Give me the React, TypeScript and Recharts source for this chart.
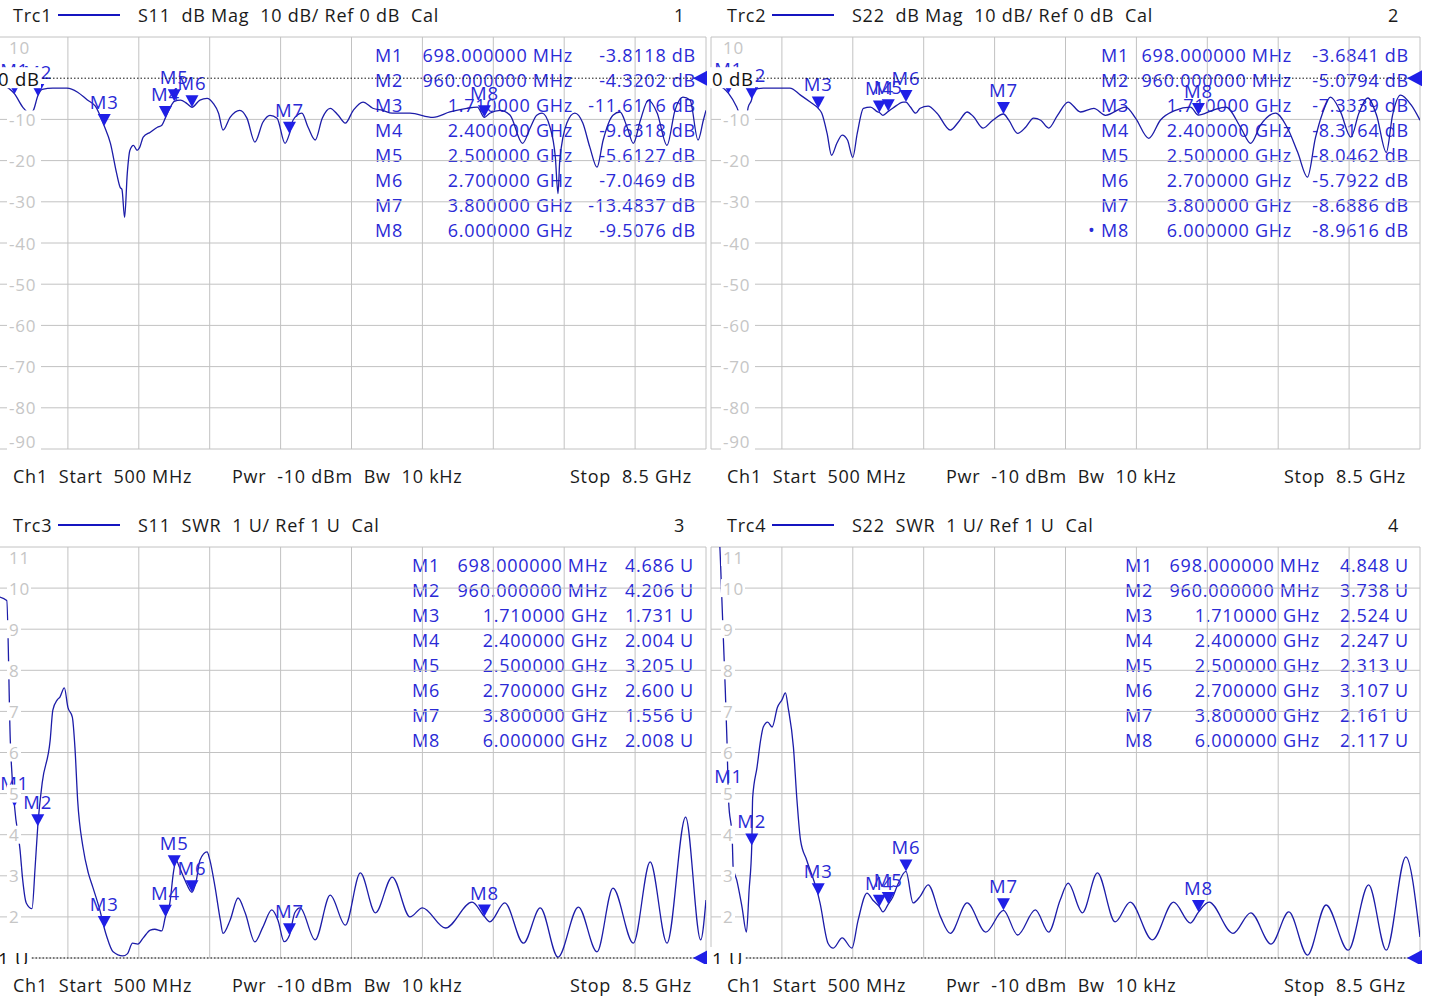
import {
  ComposedChart,
  Line,
  Scatter,
  XAxis,
  YAxis,
  CartesianGrid,
  ReferenceLine,
} from 'recharts';

const FONT = '"Open Sans", "Noto Sans", sans-serif';
const TRACE = '#1c1ca8';
const MARK = '#1f1fe6';
const MTEXT = '#2a2ad6';

// sweep grid (GHz)
const xTicks = [0.5, 1.3, 2.1, 2.9, 3.7, 4.5, 5.3, 6.1, 6.9, 7.7, 8.5];
const dbTicks = [10, -10, -20, -30, -40, -50, -60, -70, -80, -90];
const swrTicks = [11, 10, 9, 8, 7, 6, 5, 4, 3, 2];

// marker frequencies (GHz), shared by all traces
const markerFreqs = [0.698, 0.96, 1.71, 2.4, 2.5, 2.7, 3.8, 6.0];
const s11DbMarkers = [-3.8118, -4.3202, -11.6116, -9.6318, -5.6127, -7.0469, -13.4837, -9.5076];
const s22DbMarkers = [-3.6841, -5.0794, -7.3339, -8.3164, -8.0462, -5.7922, -8.6886, -8.9616];
const s11SwrMarkers = [4.686, 4.206, 1.731, 2.004, 3.205, 2.6, 1.556, 2.008];
const s22SwrMarkers = [4.848, 3.738, 2.524, 2.247, 2.313, 3.107, 2.161, 2.117];

// Trc1  S11 dB Mag
const s11DbFreq = [
  0.5, 0.59, 0.698, 0.79, 0.87, 0.91, 0.96, 1.01, 1.13, 1.29, 1.41, 1.52, 1.61, 1.71, 1.78,
  1.85, 1.89, 1.91, 1.94, 1.97, 2.0, 2.04, 2.08, 2.11, 2.15, 2.23, 2.31, 2.36, 2.4, 2.45,
  2.5, 2.57, 2.64, 2.7, 2.79, 2.87, 2.94, 3.0, 3.05, 3.13, 3.24, 3.32, 3.41, 3.5, 3.58,
  3.66, 3.75, 3.8, 3.84, 3.94, 4.01, 4.09, 4.17, 4.26, 4.35, 4.43, 4.52, 4.63, 4.74, 4.85,
  4.96, 5.16, 5.42, 5.61, 5.8, 5.92, 6.0, 6.06, 6.18, 6.29, 6.43, 6.52, 6.59, 6.65, 6.74,
  6.8, 6.83, 6.85, 6.93, 7.02, 7.11, 7.19, 7.27, 7.34, 7.45, 7.53, 7.61, 7.68, 7.76, 7.85,
  7.95, 8.06, 8.15, 8.24, 8.32, 8.41, 8.47, 8.5,
];
const s11DbVal = [
  -1.5, -1.9, -3.81, -7, -8.5, -7.8, -4.32, -2.7, -2.4, -2.4, -3.4, -5.3, -6.8, -11.61, -15.8,
  -23.1, -26.5, -27, -33.8, -23.1, -17.5, -16.3, -17.5, -16.8, -14.3, -13.1, -11.9, -11.4, -9.63, -7.3,
  -5.61, -5.3, -6.1, -7.05, -5.3, -4.9, -6.1, -8.5, -12.6, -9.5, -7.8, -9.7, -15.5, -10.7, -9,
  -9.7, -15.8, -13.48, -10.2, -8.5, -11.9, -15, -9.7, -7.3, -9, -10.9, -7.8, -5.8, -7.3, -7.8,
  -8.5, -8.5, -9.5, -8.2, -7.3, -7, -9.51, -8.5, -7.8, -9, -15.8, -11.9, -9, -8.5, -11.9,
  -19.2, -28, -20, -10.9, -8.5, -10.9, -16.8, -21.6, -15, -9, -8.2, -11.9, -15.8, -10.2, -5.3,
  -8.5, -16.3, -7.8, -4.6, -5.3, -15, -10.2, -7.8,
];

// Trc2  S22 dB Mag
const s22DbFreq = [
  0.5, 0.6, 0.698, 0.79, 0.88, 0.92, 0.96, 0.97, 1.09, 1.39, 1.51, 1.62, 1.71, 1.75, 1.81,
  1.86, 1.92, 1.98, 2.04, 2.1, 2.15, 2.22, 2.3, 2.38, 2.4, 2.44, 2.5, 2.55, 2.67, 2.7,
  2.75, 2.81, 2.86, 2.95, 3.05, 3.2, 3.29, 3.39, 3.46, 3.57, 3.68, 3.8, 3.86, 3.96, 4.05,
  4.14, 4.22, 4.31, 4.41, 4.53, 4.67, 4.82, 4.95, 5.18, 5.29, 5.44, 5.57, 5.74, 5.91, 6.0,
  6.16, 6.31, 6.48, 6.59, 6.7, 6.87, 7.0, 7.12, 7.23, 7.32, 7.4, 7.49, 7.6, 7.72, 7.81,
  7.91, 8.01, 8.12, 8.19, 8.28, 8.4, 8.5,
];
const s22DbVal = [
  -1.5, -1.9, -3.68, -7, -11.9, -7, -5.08, -2.9, -2.4, -2.4, -4.1, -5.8, -7.33, -8.5, -13.4,
  -18.7, -15.8, -13.8, -15, -19.2, -13.4, -7.3, -7, -8.2, -8.32, -9, -8.05, -7.3, -5.8, -5.79,
  -7, -8.5, -7.3, -6.8, -8.5, -12.6, -10.7, -8.2, -9.3, -12.1, -10.2, -8.69, -10.2, -13.4, -11.9,
  -9.7, -10.2, -12.1, -9, -5.8, -8.2, -7.3, -9, -7, -9.7, -14.6, -10.2, -7.8, -7, -8.96,
  -7.8, -7, -12.1, -15.8, -11.4, -8.5, -11.9, -18, -24, -14.5, -8.5, -4.6, -8, -14.3, -8.5,
  -4.8, -9, -18, -9, -4.1, -6.5, -10.2,
];

// Trc3  S11 SWR
const s11SwrFreq = [
  0.5, 0.61, 0.65, 0.698, 0.76, 0.79, 0.83, 0.895, 0.93, 0.96, 1.01, 1.1, 1.13, 1.18, 1.21,
  1.26, 1.3, 1.35, 1.38, 1.41, 1.47, 1.53, 1.58, 1.66, 1.71, 1.74, 1.81, 1.92, 1.97, 2.03,
  2.09, 2.15, 2.23, 2.28, 2.36, 2.4, 2.45, 2.49, 2.5, 2.52, 2.56, 2.62, 2.7, 2.75, 2.79,
  2.87, 2.9, 2.96, 3.02, 3.05, 3.13, 3.22, 3.3, 3.41, 3.5, 3.6, 3.67, 3.74, 3.8, 3.86,
  3.92, 4.09, 4.26, 4.43, 4.6, 4.77, 4.96, 5.16, 5.3, 5.56, 5.86, 6.0, 6.06, 6.23, 6.44,
  6.63, 6.83, 7.06, 7.27, 7.45, 7.68, 7.87, 8.06, 8.27, 8.44, 8.5,
];
const s11SwrVal = [
  9.8, 9.7, 6.3, 4.686, 3.63, 2.9, 2.34, 2.2, 3.2, 4.206, 5.26, 6.3, 7.03, 7.28, 7.35,
  7.57, 7.1, 6.86, 6.1, 4.84, 3.7, 3.07, 2.73, 2.17, 1.731, 1.51, 1.15, 1.05, 1.1, 1.36,
  1.34, 1.49, 1.68, 1.7, 1.66, 2.004, 2.33, 3.07, 3.205, 3.38, 3.2, 2.9, 2.6, 2.9, 3.38,
  3.58, 3.4, 2.73, 1.92, 1.6, 1.92, 2.46, 2.1, 1.39, 1.75, 2.17, 1.92, 1.4, 1.556, 2.1,
  2.22, 1.44, 2.53, 1.8, 3.07, 2.1, 2.97, 2.0, 2.22, 1.73, 2.36, 2.008, 1.88, 2.34, 1.36,
  2.22, 1.02, 2.24, 1.15, 2.7, 1.36, 3.34, 1.36, 4.43, 1.44, 2.41,
];

// Trc4  S22 SWR
const s22SwrFreq = [
  0.5, 0.6, 0.62, 0.64, 0.66, 0.68, 0.698, 0.74, 0.75, 0.79, 0.85, 0.9, 0.93, 0.96, 0.97,
  1.02, 1.06, 1.09, 1.14, 1.19, 1.25, 1.3, 1.34, 1.37, 1.43, 1.47, 1.51, 1.58, 1.67, 1.71,
  1.73, 1.82, 1.88, 1.98, 2.09, 2.16, 2.26, 2.33, 2.4, 2.44, 2.5, 2.55, 2.61, 2.7, 2.78,
  2.86, 2.95, 3.09, 3.2, 3.39, 3.6, 3.8, 3.96, 4.16, 4.31, 4.44, 4.53, 4.69, 4.86, 5.06,
  5.23, 5.48, 5.72, 5.91, 6.0, 6.12, 6.39, 6.59, 6.82, 7.02, 7.23, 7.44, 7.69, 7.92, 8.12,
  8.34, 8.5,
];
const s22SwrVal = [
  13, 11, 9.88, 8.74, 7.6, 6.3, 4.848, 3.87, 3.2, 2.9, 2.24, 1.63, 2.65, 3.738, 4.9,
  5.65, 6.3, 6.62, 6.74, 6.62, 7.1, 7.28, 7.45, 7.1, 6.13, 4.84, 3.87, 3.38, 2.82, 2.524,
  2.34, 1.36, 1.24, 1.49, 1.24, 1.92, 2.58, 2.4, 2.247, 2.12, 2.313, 2.48, 2.8, 3.107, 2.34,
  2.5, 2.78, 2.0, 1.6, 2.34, 1.63, 2.161, 1.56, 2.17, 1.63, 2.41, 2.82, 2.1, 3.07, 1.88,
  2.36, 1.44, 2.36, 1.85, 2.117, 2.36, 1.6, 2.1, 1.34, 2.12, 1.07, 2.29, 1.19, 2.78, 1.19,
  3.46, 1.51,
];

const freqText = (f: number) =>
  f < 1 ? `${(f * 1000).toFixed(6)} MHz` : `${f.toFixed(6)} GHz`;

const MarkerShape = (props: any) => {
  const { cx, cy, payload } = props;
  if (cx == null || cy == null) return null;
  return (
    <g>
      <polygon points={`${cx},${cy} ${cx - 6.5},${cy - 12} ${cx + 6.5},${cy - 12}`} fill={MARK} />
      <text
        x={cx}
        y={cy - 17}
        textAnchor="middle"
        fill={MTEXT}
        fontFamily={FONT}
        fontSize={18.5}
        letterSpacing={0.8}
      >
        {payload.name}
      </text>
    </g>
  );
};

const YTick = (props: any) => {
  const { x, y, payload, top, bottom } = props;
  let dy = 0;
  if (payload.value === top) dy = 10;
  if (payload.value === bottom) dy = -8;
  const label = String(payload.value);
  const w = label.length * 10 + 4;
  const tx = x + 4;
  return (
    <g>
      <rect x={tx - 2} y={y + dy - 9} width={w} height={18} fill="#fff" />
      <text
        x={tx}
        y={y + dy}
        dominantBaseline="central"
        fill="#c6c6c6"
        fontFamily={FONT}
        fontSize={17}
        letterSpacing={0.8}
      >
        {label}
      </text>
    </g>
  );
};

const RefLabel = (props: any) => {
  const { viewBox, text } = props;
  if (!viewBox) return null;
  const { x, y, width } = viewBox;
  return (
    <g>
      <rect x={x - 4} y={y - 11} width={text.length * 10 + 8} height={21} fill="#fff" />
      <text
        x={x + 1}
        y={y}
        dominantBaseline="central"
        fill="#111"
        fontFamily={FONT}
        fontSize={18.5}
        letterSpacing={0.8}
      >
        {text}
      </text>
      <polygon
        points={`${x + width - 13},${y} ${x + width + 2},${y - 8} ${x + width + 2},${y + 8}`}
        fill={MARK}
      />
    </g>
  );
};

interface PanelProps {
  plotLeft: number;
  plotTop: number;
  plotH: number;
  trc: string;
  title: string;
  num: string;
  freqs: number[];
  vals: number[];
  markers: number[];
  dbMode: boolean;
  nameX: number;
  freqEnd: number;
  valEnd: number;
  active?: number;
}

const PLOT_W = 709;
const M = { top: 6, right: 8, bottom: 6, left: 6 };

function Panel(p: PanelProps) {
  const data = p.freqs.map((f, i) => ({ f, v: p.vals[i] }));
  const marks = markerFreqs.map((f, i) => ({ f, m: p.markers[i], name: `M${i + 1}` }));
  const ticks = p.dbMode ? dbTicks : swrTicks;
  const domain = p.dbMode ? [-90, 10] : [1, 11];
  const refValue = p.dbMode ? 0 : 1;
  const refText = p.dbMode ? '0 dB' : '1 U';
  const textStyle: React.CSSProperties = {
    position: 'absolute',
    fontFamily: FONT,
    fontSize: 18,
    letterSpacing: 0.75,
    lineHeight: '24px',
    whiteSpace: 'pre',
    color: '#1a1a1a',
  };
  const hx = p.plotLeft + 16;
  const headY = p.plotTop - 22 - 12;
  const footY = p.plotTop + p.plotH + 27 - 12;
  return (
    <>
      <div style={{ ...textStyle, left: hx, top: headY }}>{p.trc}</div>
      <div
        style={{
          position: 'absolute',
          left: hx + 45,
          top: p.plotTop - 23,
          width: 62,
          height: 2,
          background: '#1515c0',
        }}
      />
      <div style={{ ...textStyle, left: hx + 125, top: headY }}>{p.title}</div>
      <div style={{ ...textStyle, left: hx + 660, top: headY, width: 12, textAlign: 'right' }}>
        {p.num}
      </div>
      <div style={{ ...textStyle, left: hx, top: footY }}>{'Ch1  Start  500 MHz'}</div>
      <div style={{ ...textStyle, left: hx + 219, top: footY }}>{'Pwr  -10 dBm  Bw  10 kHz'}</div>
      <div style={{ ...textStyle, left: hx + 479, top: footY, width: 200, textAlign: 'right' }}>
        {'Stop  8.5 GHz'}
      </div>
      {markerFreqs.map((f, i) => {
        const y = p.plotTop + 18 + 25 * i - 12;
        const val = p.dbMode ? `${p.markers[i].toFixed(4)} dB` : `${p.markers[i].toFixed(3)} U`;
        const st = { ...textStyle, color: MTEXT, top: y };
        return (
          <div key={i}>
            {p.active === i && (
              <div style={{ ...st, left: p.nameX - 13 }}>{'•'}</div>
            )}
            <div style={{ ...st, left: p.nameX }}>{`M${i + 1}`}</div>
            <div style={{ ...st, left: p.freqEnd - 220, width: 220, textAlign: 'right' }}>
              {freqText(f)}
            </div>
            <div style={{ ...st, left: p.valEnd - 120, width: 120, textAlign: 'right' }}>{val}</div>
          </div>
        );
      })}
      <div style={{ position: 'absolute', left: p.plotLeft - M.left, top: p.plotTop - M.top }}>
        <ComposedChart
          width={PLOT_W + M.left + M.right}
          height={p.plotH + M.top + M.bottom}
          margin={M}
        >
          <CartesianGrid stroke="#c2c2c2" strokeWidth={1} />
          <XAxis
            dataKey="f"
            type="number"
            domain={[0.5, 8.5]}
            ticks={xTicks}
            allowDataOverflow
            hide
          />
          <YAxis
            type="number"
            domain={domain}
            ticks={ticks}
            allowDataOverflow
            mirror
            axisLine={false}
            tickLine={false}
            interval={0}
            tick={<YTick top={domain[1]} bottom={domain[0]} />}
          />
          <Line
            data={data}
            dataKey="v"
            type="monotoneX"
            stroke={TRACE}
            strokeWidth={1.3}
            dot={false}
            activeDot={false}
            isAnimationActive={false}
          />
          <Scatter
            data={marks}
            dataKey="m"
            shape={<MarkerShape />}
            isAnimationActive={false}
          />
          <ReferenceLine
            y={refValue}
            stroke="#111"
            strokeDasharray="1.5 2"
            zIndex={2000}
            label={<RefLabel text={refText} />}
          />
        </ComposedChart>
      </div>
    </>
  );
}

export default function App() {
  return (
    <div
      style={{
        position: 'absolute',
        left: 0,
        top: 0,
        width: 1430,
        height: 999,
        overflow: 'hidden',
        background: '#fff',
      }}
    >
      <Panel
        plotLeft={-3}
        plotTop={37}
        plotH={412}
        trc="Trc1"
        title="S11  dB Mag  10 dB/ Ref 0 dB  Cal"
        num="1"
        freqs={s11DbFreq}
        vals={s11DbVal}
        markers={s11DbMarkers}
        dbMode
        nameX={375}
        freqEnd={573}
        valEnd={696}
      />
      <Panel
        plotLeft={711}
        plotTop={37}
        plotH={412}
        trc="Trc2"
        title="S22  dB Mag  10 dB/ Ref 0 dB  Cal"
        num="2"
        freqs={s22DbFreq}
        vals={s22DbVal}
        markers={s22DbMarkers}
        dbMode
        nameX={1101}
        freqEnd={1292}
        valEnd={1409}
        active={7}
      />
      <Panel
        plotLeft={-3}
        plotTop={547}
        plotH={411}
        trc="Trc3"
        title="S11  SWR  1 U/ Ref 1 U  Cal"
        num="3"
        freqs={s11SwrFreq}
        vals={s11SwrVal}
        markers={s11SwrMarkers}
        dbMode={false}
        nameX={412}
        freqEnd={608}
        valEnd={694}
      />
      <Panel
        plotLeft={711}
        plotTop={547}
        plotH={411}
        trc="Trc4"
        title="S22  SWR  1 U/ Ref 1 U  Cal"
        num="4"
        freqs={s22SwrFreq}
        vals={s22SwrVal}
        markers={s22SwrMarkers}
        dbMode={false}
        nameX={1125}
        freqEnd={1320}
        valEnd={1409}
      />
    </div>
  );
}
